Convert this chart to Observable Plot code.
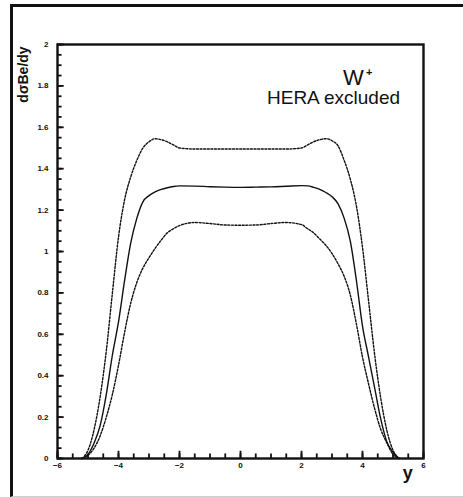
<!DOCTYPE html>
<html>
<head>
<meta charset="utf-8">
<script src="https://cdn.jsdelivr.net/npm/d3@7"></script>
<script src="https://cdn.jsdelivr.net/npm/@observablehq/plot@0.6"></script>
<style>
  html, body { margin: 0; padding: 0; background: #fff; }
  #wrap { position: relative; width: 463px; height: 497px; overflow: hidden; }
  #border { position: absolute; left: 10px; top: 4px; width: 453px; height: 493px; box-sizing: border-box;
            border-top: 3px solid #111; border-left: 3px solid #111; border-bottom: 1px solid #cfcfcf; }
  #chart { position: absolute; left: 0; top: 0; }
  #chart svg { background: transparent; }
</style>
</head>
<body>
<div id="wrap"><div id="border"></div><div id="chart"></div></div>
<script>
// rapidity values
const rapidity = [-5.2,-5.0,-4.8,-4.6,-4.4,-4.2,-4.0,-3.8,-3.6,-3.4,-3.2,-3.0,-2.8,-2.6,-2.4,-2.2,-2.0,-1.5,-1.0,-0.5,0,
                  0.5,1.0,1.5,2.0,2.2,2.4,2.6,2.8,3.0,3.2,3.4,3.6,3.8,4.0,4.2,4.4,4.6,4.8,5.0,5.2];
// central prediction (solid)
const central = [0,0.02,0.075,0.16,0.31,0.50,0.66,0.86,1.04,1.16,1.24,1.27,1.288,1.30,1.308,1.314,1.317,1.316,1.313,1.311,1.31,
                 1.311,1.312,1.315,1.318,1.317,1.31,1.30,1.285,1.265,1.23,1.16,1.05,0.86,0.64,0.49,0.34,0.19,0.08,0.03,0];
// upper band (dotted)
const upper = [0,0.04,0.14,0.30,0.52,0.80,1.07,1.25,1.36,1.44,1.50,1.53,1.545,1.54,1.53,1.515,1.50,1.495,1.495,1.495,1.495,
               1.495,1.495,1.495,1.50,1.515,1.53,1.54,1.545,1.535,1.51,1.44,1.35,1.22,1.02,0.76,0.50,0.29,0.135,0.04,0];
// lower band (dotted)
const lower = [0,0.015,0.05,0.11,0.20,0.31,0.45,0.61,0.75,0.85,0.92,0.97,1.015,1.055,1.09,1.11,1.125,1.14,1.135,1.128,1.127,
               1.128,1.135,1.14,1.13,1.11,1.09,1.06,1.03,0.99,0.94,0.88,0.79,0.65,0.49,0.36,0.24,0.14,0.075,0.02,0];

const xLabels = [-6,-4,-2,0,2,4,6];
const xMinorTicks = [-6,-5.5,-5,-4.5,-4,-3.5,-3,-2.5,-2,-1.5,-1,-0.5,0,0.5,1,1.5,2,2.5,3,3.5,4,4.5,5,5.5,6];
const yLabels = [0,0.2,0.4,0.6,0.8,1,1.2,1.4,1.6,1.8,2];
const yMinorTicks = d3.range(0, 41).map(i => +(i * 0.05).toFixed(2));

const rows = rapidity.map((x, i) => ({x, central: central[i], upper: upper[i], lower: lower[i]}));
const xMinorRows = xMinorTicks.map(v => ({x: v, y1: 0, y2: 0.022}));
const xMajorRows = xLabels.map(v => ({x: v, y1: 0, y2: 0.035}));
const yMinorRows = yMinorTicks.map(v => ({y: v, x1: -6, x2: -5.85}));
const yMajorRows = yLabels.map(v => ({y: v, x1: -6, x2: -5.78}));

const chart = Plot.plot({
  width: 463, height: 497,
  marginLeft: 57, marginRight: 40, marginTop: 44, marginBottom: 39,
  x: {domain: [-6, 6]},
  y: {domain: [0, 2]},
  style: {fontFamily: "'Liberation Sans', Arial, sans-serif", background: "transparent", color: "#111"},
  marks: [
    Plot.frame({stroke: "#111", strokeWidth: 2.4}),
    Plot.ruleX(xMinorRows, {x: "x", y1: "y1", y2: "y2", stroke: "#111", strokeWidth: 1.8}),
    Plot.ruleX(xMajorRows, {x: "x", y1: "y1", y2: "y2", stroke: "#111", strokeWidth: 1.8}),
    Plot.ruleY(yMinorRows, {y: "y", x1: "x1", x2: "x2", stroke: "#111", strokeWidth: 1.8}),
    Plot.ruleY(yMajorRows, {y: "y", x1: "x1", x2: "x2", stroke: "#111", strokeWidth: 1.8}),
    Plot.axisX({ticks: xLabels, tickSize: 0, tickPadding: 4, fontSize: 8, fontWeight: "bold", label: null}),
    Plot.axisY({ticks: yLabels, tickSize: 0, tickPadding: 9, tickFormat: d3.format("~g"), fontSize: 8, fontWeight: "bold", label: null}),
    Plot.line(rows, {x: "x", y: "upper", stroke: "#111", strokeWidth: 1.4, strokeDasharray: "2,1.6", curve: "monotone-x"}),
    Plot.line(rows, {x: "x", y: "lower", stroke: "#111", strokeWidth: 1.4, strokeDasharray: "2,1.6", curve: "monotone-x"}),
    Plot.line(rows, {x: "x", y: "central", stroke: "#111", strokeWidth: 1.4, curve: "monotone-x"}),
    Plot.text(["W"], {x: 3.7, y: 1.84, text: d => d, fontSize: 22, textAnchor: "middle", lineAnchor: "middle", fill: "#111"}),
    Plot.text(["+"], {x: 4.22, y: 1.865, text: d => d, fontSize: 11, fontWeight: "bold", textAnchor: "middle", lineAnchor: "middle", fill: "#111"}),
    Plot.text(["HERA excluded"], {x: 3.05, y: 1.741, text: d => d, fontSize: 19, textAnchor: "middle", lineAnchor: "middle", fill: "#111", letterSpacing: "1.7px"}),
    Plot.text(["y"], {x: 5.48, y: -0.071, text: d => d, fontSize: 18, fontWeight: "bold", textAnchor: "middle", lineAnchor: "middle", fill: "#111"}),
    Plot.text(["dσBe/dy"], {x: -7.11, y: 1.855, text: d => d, rotate: -90, fontSize: 14, fontWeight: "bold", textAnchor: "middle", lineAnchor: "middle", fill: "#111", letterSpacing: "1.3px"})
  ]
});
document.getElementById("chart").appendChild(chart);
</script>
</body>
</html>
